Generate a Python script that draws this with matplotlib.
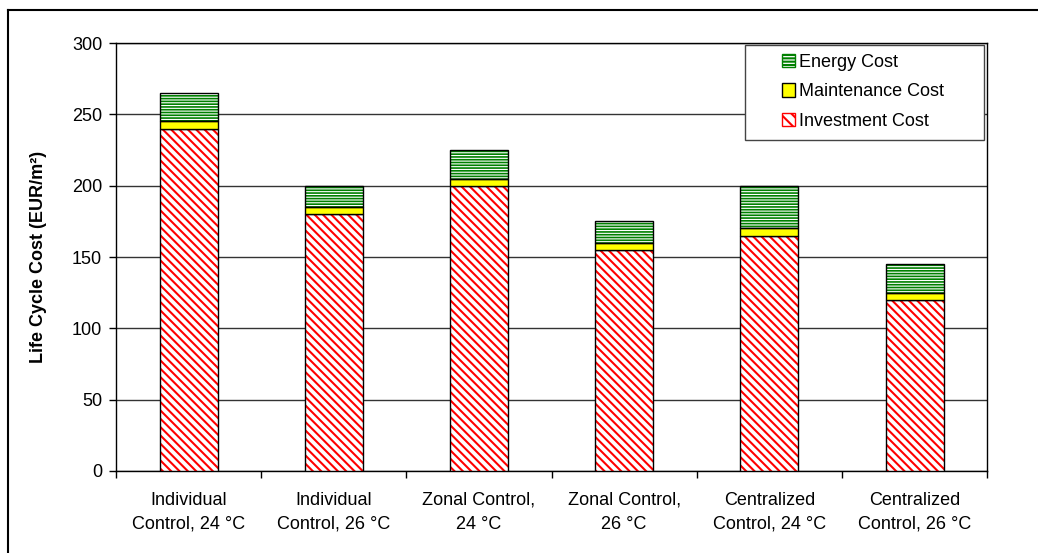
import numpy as np
import matplotlib as mpl
import matplotlib.pyplot as plt
from matplotlib.patches import Rectangle
from matplotlib.lines import Line2D

# ---- DATA ---- #
categories = ["Individual\nControl, 24 °C", "Individual\nControl, 26 °C",
              "Zonal Control,\n24 °C", "Zonal Control,\n26 °C",
              "Centralized\nControl, 24 °C", "Centralized\nControl, 26 °C"]
investment = [240, 180, 200, 155, 165, 120]
maintenance = [5, 5, 5, 5, 5, 5]
energy = [20, 15, 20, 15, 30, 20]
yticks = [0, 50, 100, 150, 200, 250, 300]

plt.rcParams['font.family'] = ['Liberation Sans', 'DejaVu Sans']
plt.rcParams['hatch.linewidth'] = 1.5

RED_HATCH = '\\' * 4
GREEN_HATCH = '-' * 6

fig = plt.figure(figsize=(10.38, 5.53), dpi=100)
ax = fig.add_axes([0.1118, 0.1483, 0.8392, 0.7739])

x = np.arange(len(categories))
w = 0.4
inv = np.array(investment)
mnt = np.array(maintenance)
eng = np.array(energy)

# hatched fills first, black outlines on top
ax.bar(x, inv, w, color='white', edgecolor='#ff0000', hatch=RED_HATCH, lw=0, zorder=3)
ax.bar(x, inv, w, fill=False, edgecolor='black', lw=1, zorder=4)
ax.bar(x, mnt, w, bottom=inv, color='#ffff00', edgecolor='black', lw=1, zorder=4)
with mpl.rc_context({'hatch.linewidth': 1.2}):
    ax.bar(x, eng, w, bottom=inv + mnt, color='white', edgecolor='#008000', hatch=GREEN_HATCH, lw=0, zorder=3)
ax.bar(x, eng, w, bottom=inv + mnt, fill=False, edgecolor='black', lw=1, zorder=4)

ax.set_xlim(-0.5, len(categories) - 0.5)
ax.set_ylim(0, 300)
ax.set_yticks(yticks)
ax.yaxis.grid(True, color='#333333', lw=1)
ax.set_axisbelow(True)

ax.set_xticks(np.arange(-0.5, len(categories)))
ax.set_xticklabels([])
ax.set_xticks(x, minor=True)
ax.set_xticklabels(categories, minor=True, fontsize=13, linespacing=1.55)
ax.tick_params(axis='x', which='major', length=5, width=1, color='black')
ax.tick_params(axis='x', which='minor', length=0, pad=15)
ax.tick_params(axis='y', length=5, width=1, labelsize=13, pad=5)

for s in ax.spines.values():
    s.set_color('black')
    s.set_linewidth(1)

ax.set_ylabel("Life Cycle Cost (EUR/m²)", fontsize=13, fontweight='bold', labelpad=18)

# legend box
fig.patches.append(Rectangle((0.718, 0.747), 0.230, 0.172, transform=fig.transFigure,
                             facecolor='white', edgecolor='#444444', lw=1, zorder=5))
with mpl.rc_context({'hatch.linewidth': 1.0}):
    green_handle = Rectangle((0, 0), 1, 1, facecolor='white', edgecolor='#008000', hatch='-' * 5)
handles = [
    green_handle,
    Rectangle((0, 0), 1, 1, facecolor='#ffff00', edgecolor='black'),
    Rectangle((0, 0), 1, 1, facecolor='white', edgecolor='#ff0000', hatch='\\' * 3),
]
leg = fig.legend(handles, ["Energy Cost", "Maintenance Cost", "Investment Cost"],
                 loc='upper left', bbox_to_anchor=(0.739, 0.929), frameon=False,
                 fontsize=13, handlelength=0.75, handleheight=0.75, handletextpad=0.2,
                 labelspacing=0.7, borderpad=0.3)
leg.set_zorder(6)

# outer chart border (top and left visible)
fig.add_artist(Line2D([0.0077, 1.0], [0.982, 0.982], color='black', lw=1.5, transform=fig.transFigure))
fig.add_artist(Line2D([0.0077, 0.0077], [0.0, 0.982], color='black', lw=1.5, transform=fig.transFigure))

fig.savefig("out.png", dpi=100)
